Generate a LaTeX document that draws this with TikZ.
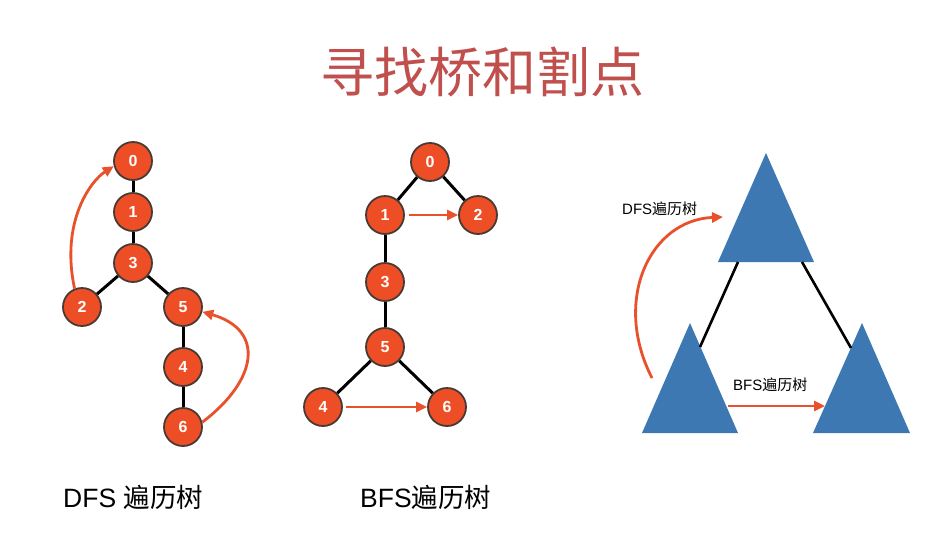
\documentclass[tikz,border=0pt]{standalone}
\usepackage{fontspec}
\setmainfont{Liberation Sans}
\newfontfamily\cjk{Noto Sans CJK SC}
\usetikzlibrary{arrows.meta}
\definecolor{nodefill}{HTML}{EE4E26}
\definecolor{nodeline}{HTML}{4A3A34}
\definecolor{arrowred}{HTML}{E8512B}
\definecolor{triblue}{HTML}{3D78B2}
\definecolor{titlered}{HTML}{C0504D}
\tikzset{
  vert/.style={circle, minimum size=38pt, inner sep=0pt, fill=nodefill, draw=nodeline, line width=1.8pt,
    text=white, font=\fontsize{16}{16}\selectfont\bfseries},
  treeedge/.style={line width=3pt, black},
  redarrow/.style={line width=2.8pt, arrowred, -{Triangle[length=11pt,width=10pt]}},
  tri/.style={fill=triblue},
  smalllabel/.style={font=\fontsize{15}{15}\selectfont, inner sep=0pt},
  biglabel/.style={font=\fontsize{26.5}{26.5}\selectfont, inner sep=0pt, anchor=west}
}
\begin{document}
\begin{tikzpicture}[x=1pt,y=-1pt]
\useasboundingbox (0,0) rectangle (952,533);
\fill[white] (0,0) rectangle (952,533);
% title
\node[titlered, font=\cjk\fontsize{54}{54}\selectfont, inner sep=0pt] (title) at (482,72) {寻找桥和割点};

% DFS tree
\node[vert] (d0) at (133,161) {0};
\node[vert] (d1) at (133,212) {1};
\node[vert] (d3) at (133,263) {3};
\node[vert] (d2) at (82,307) {2};
\node[vert] (d5) at (183,307) {5};
\node[vert] (d4) at (183,367) {4};
\node[vert] (d6) at (183,427) {6};
\draw[treeedge] (d0) -- (d1);
\draw[treeedge] (d1) -- (d3);
\draw[treeedge] (d3) -- (d2);
\draw[treeedge] (d3) -- (d5);
\draw[treeedge] (d5) -- (d4);
\draw[treeedge] (d4) -- (d6);
\draw[redarrow] (d2.112) .. controls (60,220) and (92,180) .. (d0.195);
\draw[redarrow] (d6.14) .. controls (258,380) and (265,330) .. (d5.346);

% BFS tree
\node[vert] (b0) at (430,162) {0};
\node[vert] (b1) at (385,215) {1};
\node[vert] (b2) at (478,215) {2};
\node[vert] (b3) at (385,282) {3};
\node[vert] (b5) at (385,347) {5};
\node[vert] (b4) at (323,407) {4};
\node[vert] (b6) at (447,407) {6};
\draw[treeedge] (b0) -- (b1);
\draw[treeedge] (b0) -- (b2);
\draw[treeedge] (b1) -- (b3);
\draw[treeedge] (b3) -- (b5);
\draw[treeedge] (b5) -- (b4);
\draw[treeedge] (b5) -- (b6);
\draw[redarrow, shorten <=4pt] (b1) -- (b2);
\draw[redarrow, shorten <=3pt] (b4) -- (b6);

% triangles
\fill[tri] (766,153) -- (814,262) -- (718,262) -- cycle;
\fill[tri] (690,323) -- (738,433) -- (642,433) -- cycle;
\fill[tri] (862,323) -- (910,433) -- (813,433) -- cycle;
\coordinate (tTopL) at (738,262);
\coordinate (tTopR) at (802,262);
\coordinate (tLeft) at (700,347);
\coordinate (tRight) at (851,348);
\draw[line width=2.6pt] (tTopL) -- (tLeft);
\draw[line width=2.6pt] (tTopR) -- (tRight);
\coordinate (dfsS) at (652,378);
\coordinate (dfsE) at (723,217);
\coordinate (bfsS) at (728,406);
\coordinate (bfsE) at (825,406);
\draw[redarrow] (dfsS) .. controls (612,300) and (650,220) .. (dfsE);
\draw[redarrow] (bfsS) -- (bfsE);
\node[smalllabel, anchor=west] (ldfs) at (622,209) {DFS{\cjk 遍历树}};
\node[smalllabel, anchor=west] (lbfs) at (733,385) {BFS{\cjk 遍历树}};

% bottom labels
\node[biglabel] (bdfs) at (63,497) {DFS {\cjk 遍历树}};
\node[biglabel] (bbfs) at (360,497) {BFS{\cjk 遍历树}};
\end{tikzpicture}
\end{document}
